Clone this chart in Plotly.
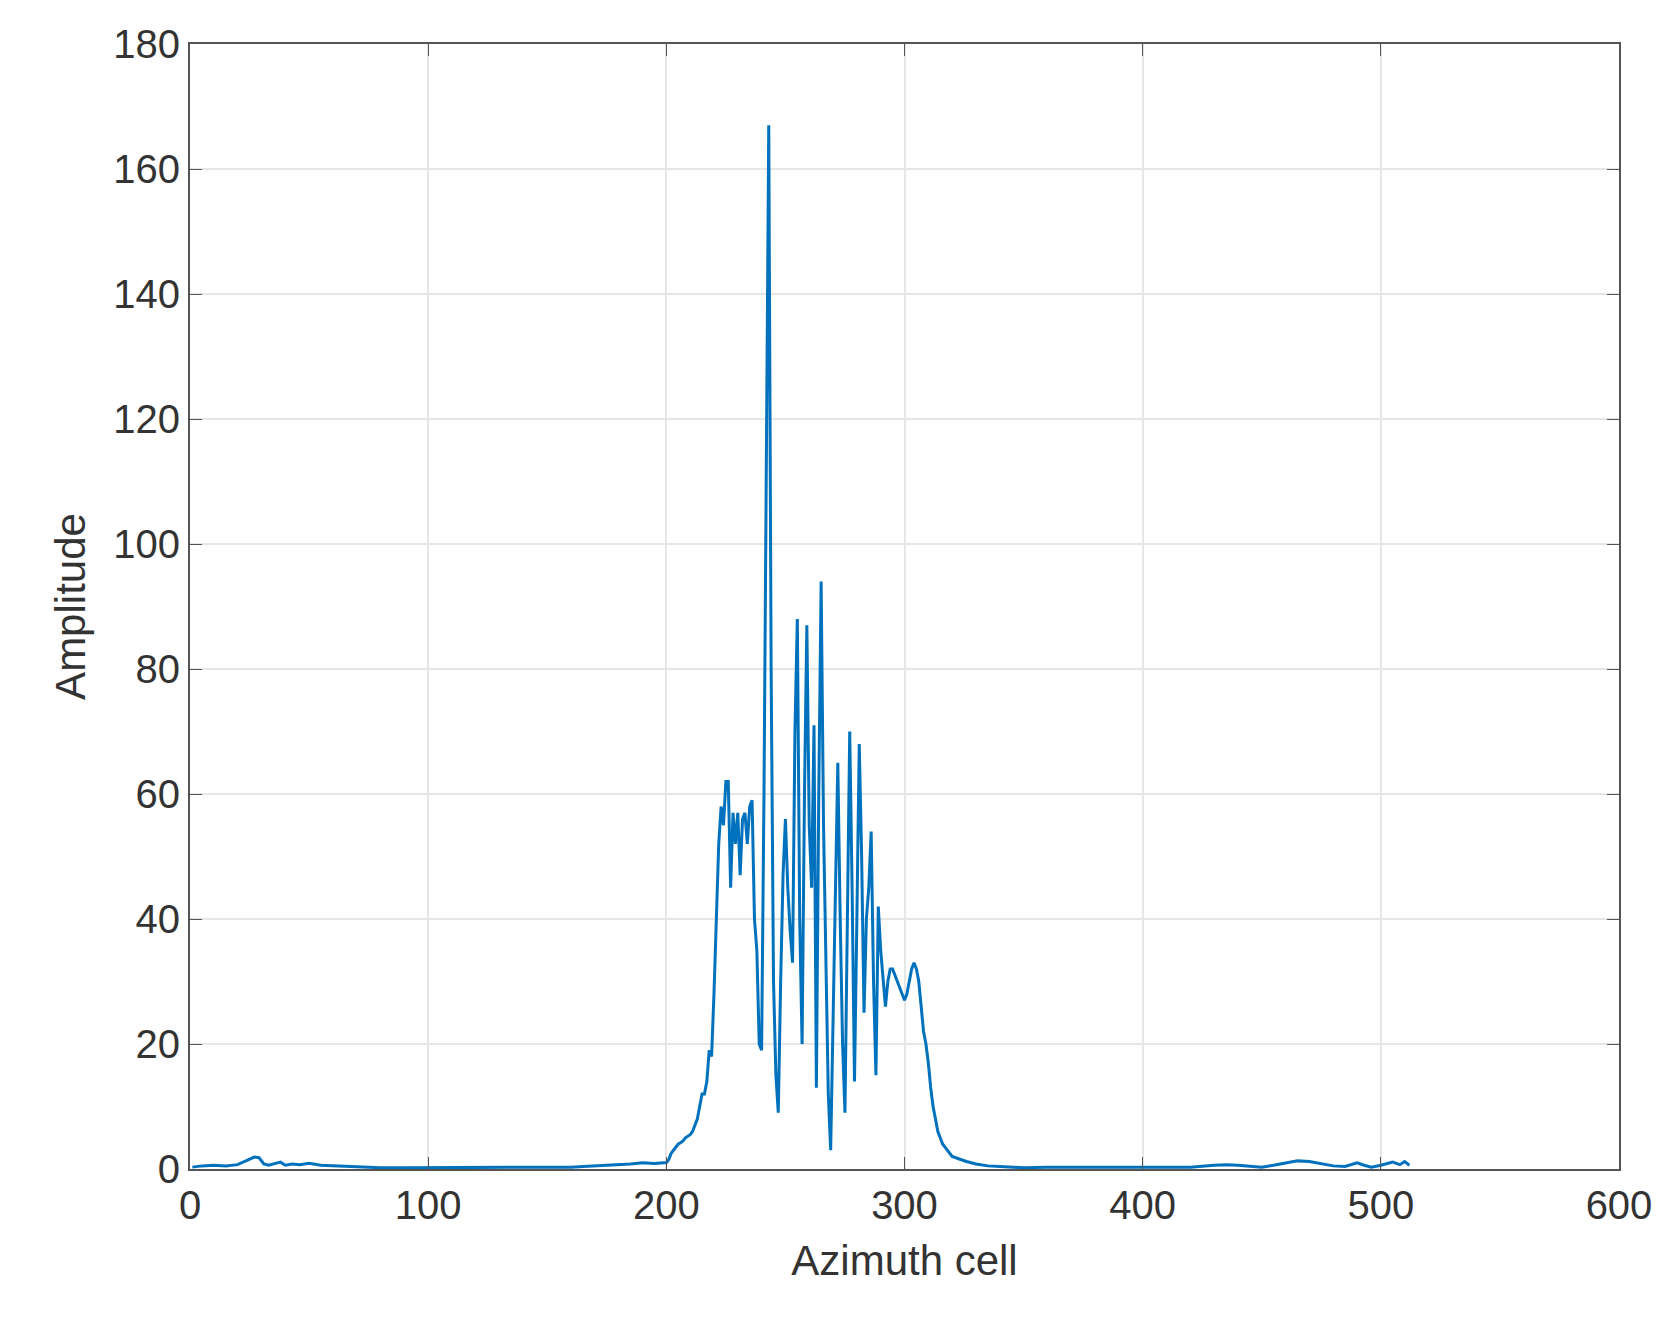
import plotly.graph_objects as go

bg_left_x = [1, 5, 10, 15, 20, 25, 27, 29, 31, 33, 36, 38, 40, 43, 46, 50, 55, 60, 65, 70, 75, 80, 90, 100, 110, 120, 130, 140, 150, 160, 165, 170, 175, 180, 185, 190, 195, 199]
bg_left_y = [0.3, 0.5, 0.6, 0.5, 0.7, 1.5, 1.9, 1.8, 0.8, 0.6, 0.9, 1.1, 0.6, 0.8, 0.7, 0.9, 0.6, 0.5, 0.5, 0.4, 0.3, 0.2, 0.2, 0.2, 0.3, 0.2, 0.2, 0.3, 0.2, 0.3, 0.4, 0.5, 0.5, 0.7, 0.8, 1.0, 0.9, 1.0]

core_x = list(range(200, 321))
core_y = [1, 1.5, 2.5, 3, 3.5, 4, 4.2, 4.5, 5, 5.2, 5.5, 6, 7, 8, 10, 12, 12, 14, 19, 18,
          28, 40, 52, 58, 55, 62, 62, 45, 57, 52, 57, 47, 56, 57, 52, 58, 59, 40, 35, 20,
          19, 60, 120, 167, 80, 30, 15, 9, 30, 47, 56, 45, 38, 33, 70, 88, 40, 20, 60, 87,
          55, 45, 71, 13, 60, 94, 55, 30, 12, 3, 25, 45, 65, 40, 20, 9, 40, 70, 45, 14,
          40, 68, 50, 25, 40, 45, 54, 30, 15, 42, 35, 30, 26, 30, 32, 32, 31, 30, 29, 28,
          27, 28, 30, 32, 33, 32, 30, 26, 22, 20, 17, 13, 10, 8, 6, 5, 4, 3.5, 3, 2.5, 2]

bg_right_x = [323, 326, 330, 335, 340, 345, 350, 360, 370, 380, 390, 400, 410, 420, 430, 435, 440, 445, 450, 455, 460, 465, 470, 475, 480, 485, 490, 493, 496, 500, 505, 508, 510, 512]
bg_right_y = [1.6, 1.2, 0.8, 0.5, 0.4, 0.3, 0.2, 0.3, 0.3, 0.2, 0.2, 0.2, 0.3, 0.3, 0.6, 0.7, 0.6, 0.4, 0.3, 0.6, 1.0, 1.3, 1.2, 0.8, 0.5, 0.4, 1.0, 0.6, 0.3, 0.6, 1.1, 0.7, 1.2, 0.6]

x = bg_left_x + core_x + bg_right_x
y = bg_left_y + core_y + bg_right_y

fig = go.Figure(go.Scatter(x=x, y=y, mode="lines", line=dict(color="#0072BD", width=3)))

ax = dict(showline=True, linecolor="#555555", linewidth=2, mirror="ticks", ticks="inside",
          ticklen=12, tickcolor="#555555", showgrid=True, gridcolor="#E6E6E6", gridwidth=1.5,
          zeroline=False, tickfont=dict(size=40, color="#333333"))
fig.update_xaxes(range=[0, 600], dtick=100, title=dict(text="Azimuth cell", font=dict(size=42, color="#333333"), standoff=20), **ax)
fig.update_yaxes(range=[0, 180], dtick=20, title=dict(text="Amplitude", font=dict(size=42, color="#333333"), standoff=15), **ax)
fig.update_layout(width=1674, height=1320, margin=dict(l=182, r=63, t=36, b=159),
                  plot_bgcolor="white", paper_bgcolor="white", showlegend=False,
                  font=dict(family="Liberation Sans, Arial, sans-serif"))
fig.write_html("out.html")
